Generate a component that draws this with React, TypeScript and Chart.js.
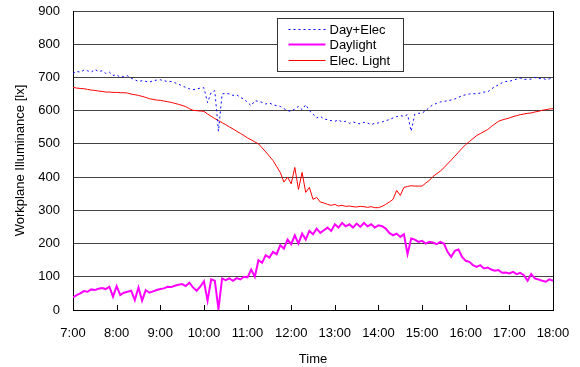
import React, { useEffect, useRef } from "react";
import { Chart, registerables } from "chart.js";

Chart.register(...registerables);

// x axis: minutes after 7:00, one value every 5 minutes
const TIME_LABELS = ["7:00", "8:00", "9:00", "10:00", "11:00", "12:00", "13:00", "14:00", "15:00", "16:00", "17:00", "18:00"];
const STEP_MIN = 5;
const SERIES_NAMES = ["Day+Elec", "Daylight", "Elec. Light"];
const X_TITLE = "Time";
const Y_TITLE = "Workplane Illuminance [lx]";

const DAY_ELEC = [
  712, 718, 716, 722, 720, 716, 724, 718, 720, 712, 716, 706,
  708, 700, 703, 705, 698, 693, 688, 690, 688, 686, 690, 692,
  693, 690, 688, 688, 684, 680, 675, 670, 666, 663, 665, 668,
  669, 624, 655, 660, 538, 650, 653, 650, 646, 648, 640, 635,
  625, 615, 630, 628, 625, 620, 623, 618, 615, 613, 606, 600,
  598, 605, 613, 603, 618, 600, 590, 578, 583, 575, 573, 570,
  568, 572, 566, 568, 562, 566, 563, 560, 565, 563, 558, 562,
  563, 566, 570, 573, 578, 582, 585, 583, 588, 538, 590, 592,
  593, 600, 610, 618, 622, 626, 628, 630, 632, 635, 640, 645,
  648, 650, 651, 651, 653, 656, 656, 665, 672, 678, 684, 688,
  688, 692, 695, 698, 694, 695, 695, 700, 696, 698, 694, 696,
  698,
];

const DAYLIGHT = [
  38, 45, 50, 57, 55, 62, 60, 64, 66, 63, 70, 40,
  72, 45, 52, 55, 58, 30, 68, 28, 60, 52, 56, 60,
  63, 65, 70, 69, 73, 76, 78, 72, 82, 68, 58, 70,
  86, 28, 92, 88, 3, 95, 90, 95, 88, 96, 92, 100,
  98, 122, 100, 150, 142, 165, 158, 175, 168, 195, 185, 212,
  198, 225, 200, 230, 212, 238, 228, 245, 232, 240, 248, 238,
  258, 248, 262, 252, 258, 248, 260, 250, 262, 252, 258, 248,
  255, 252, 245, 232, 225, 230, 220, 228, 168, 215, 212, 205,
  208, 200, 205, 203, 198, 205, 200, 175, 160, 178, 182, 160,
  148, 145, 135, 130, 135, 125, 128, 122, 118, 120, 112, 113,
  110, 115, 108, 112, 105, 88, 108, 95, 92, 88, 85, 92,
  88,
];

const ELEC_LIGHT = [
  670, 668, 667, 666, 664, 662, 661, 659, 658, 656, 656, 655,
  655, 654, 654, 653, 650, 648, 646, 643, 640, 636, 634, 632,
  631, 629, 627, 625, 622, 619, 616, 612, 606, 601, 600, 599,
  598, 590, 583, 576, 570, 564, 558, 551, 545, 538, 532, 525,
  518, 512, 506, 500, 488, 476, 463, 450, 432, 414, 385, 400,
  380, 429, 363, 414, 354, 369, 333, 339, 325, 322, 318, 315,
  318, 313, 315, 312, 313, 311, 310, 312, 311, 309, 311, 308,
  308, 312, 318, 325, 333, 360, 345, 369, 372, 374, 373, 373,
  373, 382, 390, 402, 410, 418, 428, 440, 451, 463, 475, 487,
  498, 507, 516, 525, 531, 537, 543, 552, 560, 568, 572, 575,
  578, 582, 585, 588, 590, 592, 593, 596, 598, 601, 603, 605,
  606,
];

const FONT_FAMILY = '"Liberation Sans", Arial, sans-serif';

function toPoints(vals: number[]) {
  return vals.map((v, i) => ({ x: i * STEP_MIN, y: v }));
}

const framePlugin = {
  id: "frame",
  afterDatasetsDraw(chart: any) {
    const { ctx, chartArea, scales } = chart;
    const xs = scales.x;
    ctx.save();
    ctx.strokeStyle = "#000";
    ctx.lineWidth = 1;
    ctx.beginPath();
    const rx = Math.round(chartArea.right) + 0.5;
    ctx.moveTo(rx, chartArea.top);
    ctx.lineTo(rx, chartArea.bottom);
    for (let i = 0; i < TIME_LABELS.length; i++) {
      const px = Math.round(xs.getPixelForValue(i * 60)) + 0.5;
      ctx.moveTo(px, chartArea.bottom);
      ctx.lineTo(px, chartArea.bottom - 5);
    }
    ctx.stroke();
    ctx.restore();
  },
  afterDraw(chart: any) {
    const { ctx, chartArea } = chart;
    const x0 = Math.round(chartArea.left + 204) + 0.5;
    const y0 = Math.round(chartArea.top + 7) + 0.5;
    const w = 126;
    const h = 53;
    ctx.save();
    ctx.fillStyle = "#fff";
    ctx.fillRect(x0, y0, w, h);
    ctx.strokeStyle = "#333";
    ctx.lineWidth = 1;
    ctx.setLineDash([]);
    ctx.strokeRect(x0, y0, w, h);
    ctx.font = "13px " + FONT_FAMILY;
    ctx.textBaseline = "middle";
    ctx.textAlign = "left";
    chart.data.datasets.forEach((ds: any, i: number) => {
      const cy = Math.round(y0 + 10 + i * 15.5);
      ctx.beginPath();
      ctx.setLineDash(ds.borderDash || []);
      ctx.strokeStyle = ds.borderColor;
      ctx.lineWidth = ds.borderWidth;
      ctx.moveTo(x0 + 11, cy + 0.5);
      ctx.lineTo(x0 + 48, cy + 0.5);
      ctx.stroke();
      ctx.setLineDash([]);
      ctx.fillStyle = "#000";
      ctx.fillText(ds.label, x0 + 52, cy + 1);
    });
    ctx.restore();
  },
};

export default function App() {
  const canvasRef = useRef<HTMLCanvasElement | null>(null);

  useEffect(() => {
    document.body.style.margin = "0";
    const canvas = canvasRef.current;
    if (!canvas) return;
    const chart = new Chart(canvas, {
      type: "line",
      data: {
        datasets: [
          {
            label: SERIES_NAMES[0],
            data: toPoints(DAY_ELEC),
            borderColor: "#0000ff",
            borderWidth: 1,
            borderDash: [2, 3],
            pointRadius: 0,
            tension: 0,
            fill: false,
          },
          {
            label: SERIES_NAMES[1],
            data: toPoints(DAYLIGHT),
            borderColor: "#ff00ff",
            borderWidth: 2,
            pointRadius: 0,
            tension: 0,
            fill: false,
          },
          {
            label: SERIES_NAMES[2],
            data: toPoints(ELEC_LIGHT),
            borderColor: "#ff0000",
            borderWidth: 1,
            pointRadius: 0,
            tension: 0,
            fill: false,
          },
        ],
      },
      options: {
        responsive: false,
        animation: false,
        devicePixelRatio: 1,
        layout: { padding: { top: 11, right: 27, left: 0, bottom: 0 } },
        plugins: {
          legend: { display: false },
          tooltip: { enabled: false },
        },
        scales: {
          x: {
            type: "linear",
            min: 0,
            max: 660,
            ticks: {
              stepSize: 60,
              autoSkip: false,
              maxRotation: 0,
              padding: 16,
              color: "#000",
              font: { family: FONT_FAMILY, size: 13 },
              callback: (v: any) => TIME_LABELS[Math.round(Number(v) / 60)] ?? "",
            },
            grid: { display: false, drawTicks: false },
            border: { display: true, color: "#000", width: 1 },
            title: {
              display: true,
              text: X_TITLE,
              color: "#000",
              font: { family: FONT_FAMILY, size: 13 },
              padding: { top: 0, bottom: 0 },
            },
            afterFit: (scale: any) => {
              scale.height = 57;
              scale.paddingLeft = 0;
              scale.paddingRight = 0;
              scale.paddingTop = 0;
              scale.paddingBottom = 0;
            },
          },
          y: {
            min: 0,
            max: 900,
            ticks: {
              stepSize: 100,
              padding: 13,
              color: "#000",
              font: { family: FONT_FAMILY, size: 13 },
            },
            grid: { color: "#444", lineWidth: 1, drawTicks: false },
            border: { display: true, color: "#000", width: 1 },
            title: {
              display: true,
              text: Y_TITLE,
              color: "#000",
              font: { family: FONT_FAMILY, size: 13 },
              padding: { top: 13, bottom: 0 },
            },
            afterFit: (scale: any) => {
              scale.width = 73;
              scale.paddingLeft = 0;
              scale.paddingRight = 0;
              scale.paddingTop = 0;
              scale.paddingBottom = 0;
            },
          },
        },
      },
      plugins: [framePlugin],
    } as any);
    return () => chart.destroy();
  }, []);

  return (
    <div style={{ width: 580, height: 367 }}>
      <canvas ref={canvasRef} width={580} height={367} style={{ display: "block", width: 580, height: 367 }} />
    </div>
  );
}
